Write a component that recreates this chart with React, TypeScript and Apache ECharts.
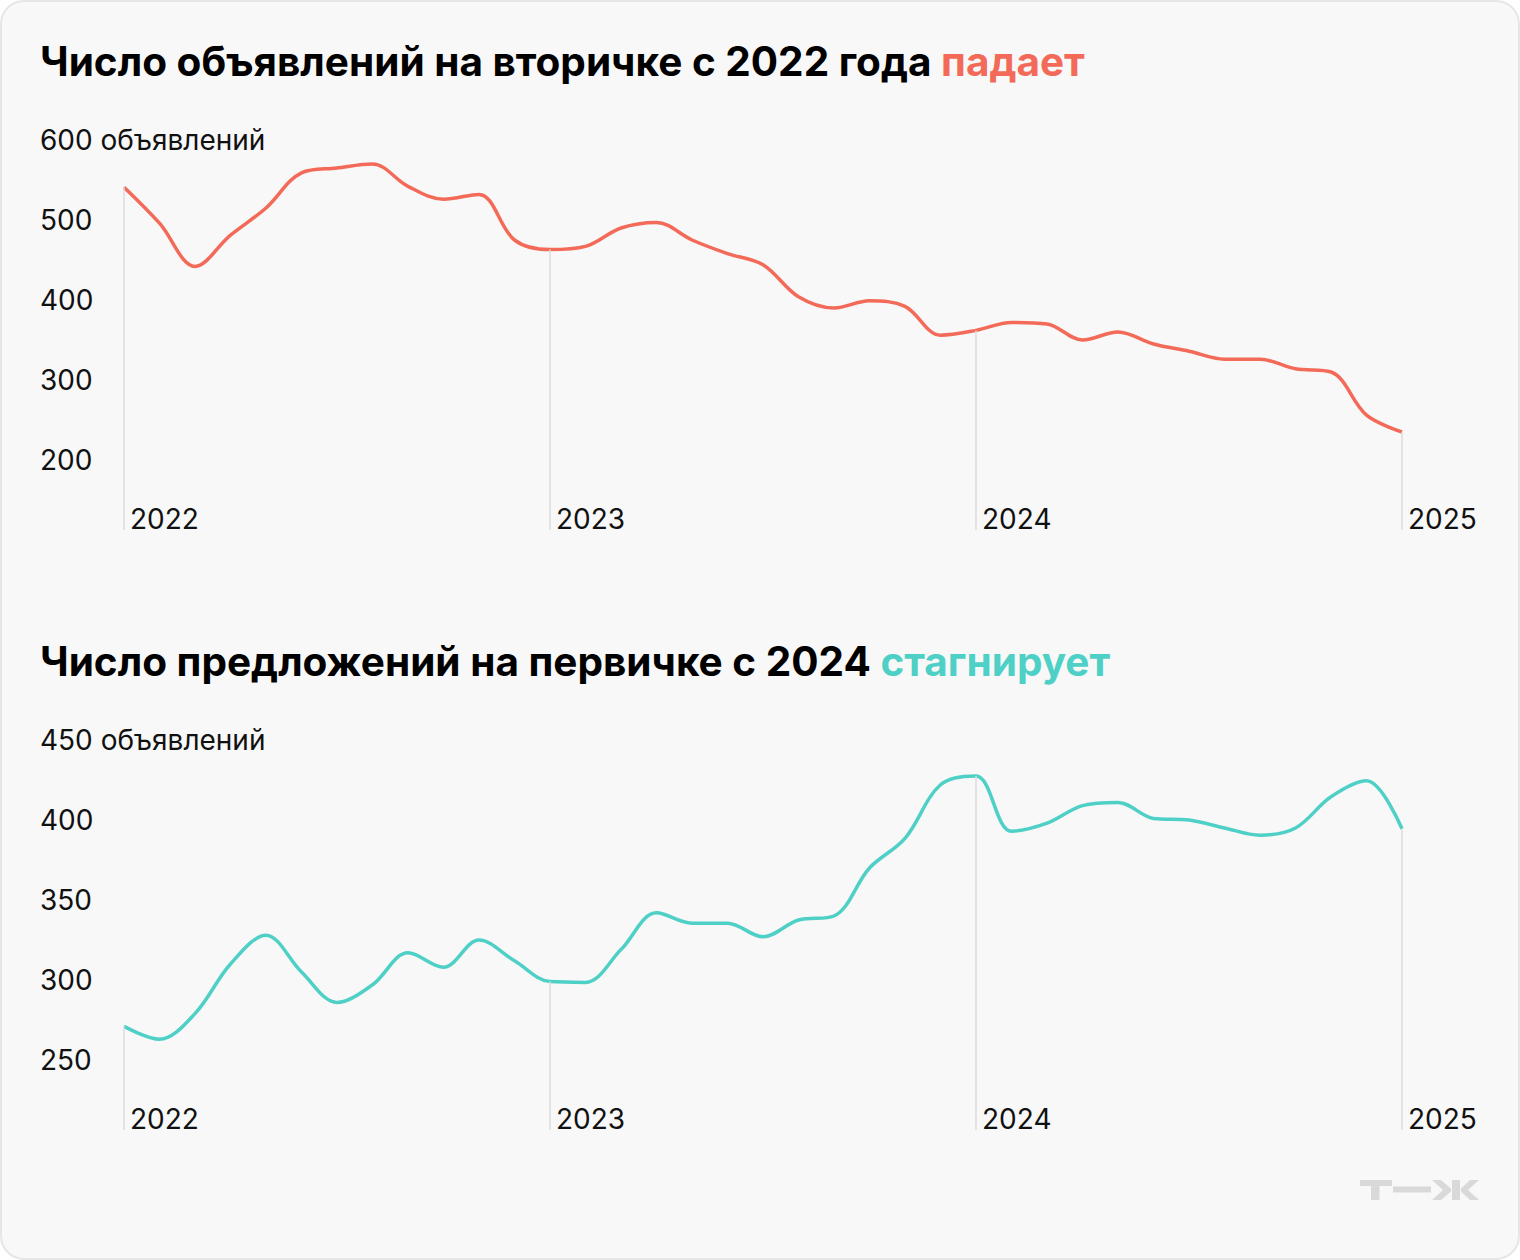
import React, { useEffect, useRef } from "react";
import * as echarts from "echarts";

const months = [
  "2022-01", "2022-02", "2022-03", "2022-04", "2022-05", "2022-06", "2022-07", "2022-08", "2022-09", "2022-10", "2022-11", "2022-12",
  "2023-01", "2023-02", "2023-03", "2023-04", "2023-05", "2023-06", "2023-07", "2023-08", "2023-09", "2023-10", "2023-11", "2023-12",
  "2024-01", "2024-02", "2024-03", "2024-04", "2024-05", "2024-06", "2024-07", "2024-08", "2024-09", "2024-10", "2024-11", "2024-12",
  "2025-01",
];

const secondaryListings = [
  541, 496, 442, 481, 515, 559, 565, 570, 542, 526, 532, 475,
  463, 467, 490, 497, 475, 458, 444, 404, 390, 399, 392, 356,
  362, 372, 370, 350, 360, 345, 336, 326, 326, 314, 310, 256,
  235,
];

const primaryListings = [
  271, 263, 279, 310, 328, 305, 286, 297, 317, 308, 325, 312,
  299, 298.5, 319, 342, 335.5, 335.5, 327, 337.5, 340, 370, 388.5, 422,
  427.5, 393, 398, 409, 411, 401, 400, 395, 390.5, 395, 414.5, 424.5,
  394.5,
];

const yearIndexes = [0, 12, 24, 36];

const topTicks = { min: 100, max: 600, interval: 100, unitLabel: "600 объявлений", dropTo: 112.5 };
const bottomTicks = { min: 200, max: 450, interval: 50, unitLabel: "450 объявлений", dropTo: 206.25 };

const title1 = "Число объявлений на вторичке с 2022 года ";
const title1Accent = "падает";
const title2 = "Число предложений на первичке с 2024 ";
const title2Accent = "стагнирует";

const RED = "#f36a58";
const TEAL = "#4fd0c6";
const FONT = "Inter, Roboto, 'Noto Sans', sans-serif";

function buildAxes(gridIndex: number, ticks: typeof topTicks) {
  const xAxis = {
    type: "category",
    gridIndex,
    data: months,
    boundaryGap: false,
    axisLine: { show: false },
    axisTick: { show: false },
    splitLine: { show: false },
    axisLabel: {
      interval: 11,
      formatter: (v: string) => v.slice(0, 4),
      align: "left",
      padding: [0, 0, 0, 6],
      margin: -35,
      fontSize: 28,
      color: "#111",
      fontFamily: FONT,
    },
  };
  const yAxis = {
    type: "value",
    gridIndex,
    min: ticks.min,
    max: ticks.max,
    interval: ticks.interval,
    axisLine: { show: false },
    axisTick: { show: false },
    splitLine: { show: false },
    axisLabel: {
      align: "left",
      margin: 84,
      fontSize: 28,
      color: "#111",
      fontFamily: FONT,
      formatter: (v: number) => (v === ticks.min ? "" : v === ticks.max ? ticks.unitLabel : String(v)),
    },
  };
  return { xAxis, yAxis };
}

function buildSeries(idx: number, values: number[], color: string, dropTo: number) {
  return {
    type: "line",
    xAxisIndex: idx,
    yAxisIndex: idx,
    data: values,
    smooth: 0.35,
    symbol: "none",
    lineStyle: { color, width: 3.5 },
    z: 3,
    markLine: {
      silent: true,
      symbol: "none",
      label: { show: false },
      lineStyle: { color: "#dddddd", width: 1.5, type: "solid" },
      data: yearIndexes.map((i) => [
        { coord: [months[i], values[i]] },
        { coord: [months[i], dropTo] },
      ]),
    },
  };
}

export default function App() {
  const ref = useRef<HTMLDivElement>(null);

  useEffect(() => {
    if (!ref.current) return;
    const chart = echarts.init(ref.current, undefined, { renderer: "svg" });
    const a0 = buildAxes(0, topTicks);
    const a1 = buildAxes(1, bottomTicks);
    const titleStyle = { fontSize: 40.5, fontWeight: "bold", fontFamily: FONT };
    chart.setOption({
      animation: false,
      backgroundColor: "transparent",
      textStyle: { fontFamily: FONT },
      grid: [
        { left: 124, right: 118, top: 140, height: 400 },
        { left: 124, right: 118, top: 740, height: 400 },
      ],
      xAxis: [a0.xAxis, a1.xAxis],
      yAxis: [a0.yAxis, a1.yAxis],
      series: [
        buildSeries(0, secondaryListings, RED, topTicks.dropTo),
        buildSeries(1, primaryListings, TEAL, bottomTicks.dropTo),
      ],
      graphic: [
        {
          type: "text",
          left: 40,
          top: 41,
          style: {
            text: `{a|${title1}}{b|${title1Accent}}`,
            rich: {
              a: { ...titleStyle, fill: "#000" },
              b: { ...titleStyle, fill: RED },
            },
          },
        },
        {
          type: "text",
          left: 40,
          top: 641,
          style: {
            text: `{a|${title2}}{b|${title2Accent}}`,
            rich: {
              a: { ...titleStyle, fill: "#000" },
              b: { ...titleStyle, fill: TEAL },
            },
          },
        },
        {
          type: "group",
          left: 1360,
          top: 1180,
          children: [
            { type: "rect", shape: { x: 0, y: 0, width: 32, height: 6 }, style: { fill: "#d9d9d9" } },
            { type: "rect", shape: { x: 11, y: 6, width: 8.5, height: 14 }, style: { fill: "#d9d9d9" } },
            { type: "rect", shape: { x: 33, y: 6.5, width: 38, height: 6 }, style: { fill: "#d9d9d9" } },
            { type: "rect", shape: { x: 92, y: 0, width: 8, height: 20 }, style: { fill: "#d9d9d9" } },
            {
              type: "polygon",
              shape: { points: [[72, 0], [81, 0], [91, 8.5], [91, 11.5], [81, 20], [72, 20], [83, 10]] },
              style: { fill: "#d9d9d9" },
            },
            {
              type: "polygon",
              shape: { points: [[119, 0], [110, 0], [101, 8.5], [101, 11.5], [110, 20], [119, 20], [108, 10]] },
              style: { fill: "#d9d9d9" },
            },
          ],
        },
      ],
    });
    return () => chart.dispose();
  }, []);

  return (
    <div
      style={{
        position: "absolute",
        left: 0,
        top: 0,
        width: 1520,
        height: 1260,
        boxSizing: "border-box",
        background: "#f8f8f8",
        border: "2px solid #e6e6e6",
        borderRadius: 24,
        overflow: "hidden",
      }}
    >
      <div ref={ref} style={{ position: "absolute", left: -2, top: -2, width: 1520, height: 1260 }} />
    </div>
  );
}
